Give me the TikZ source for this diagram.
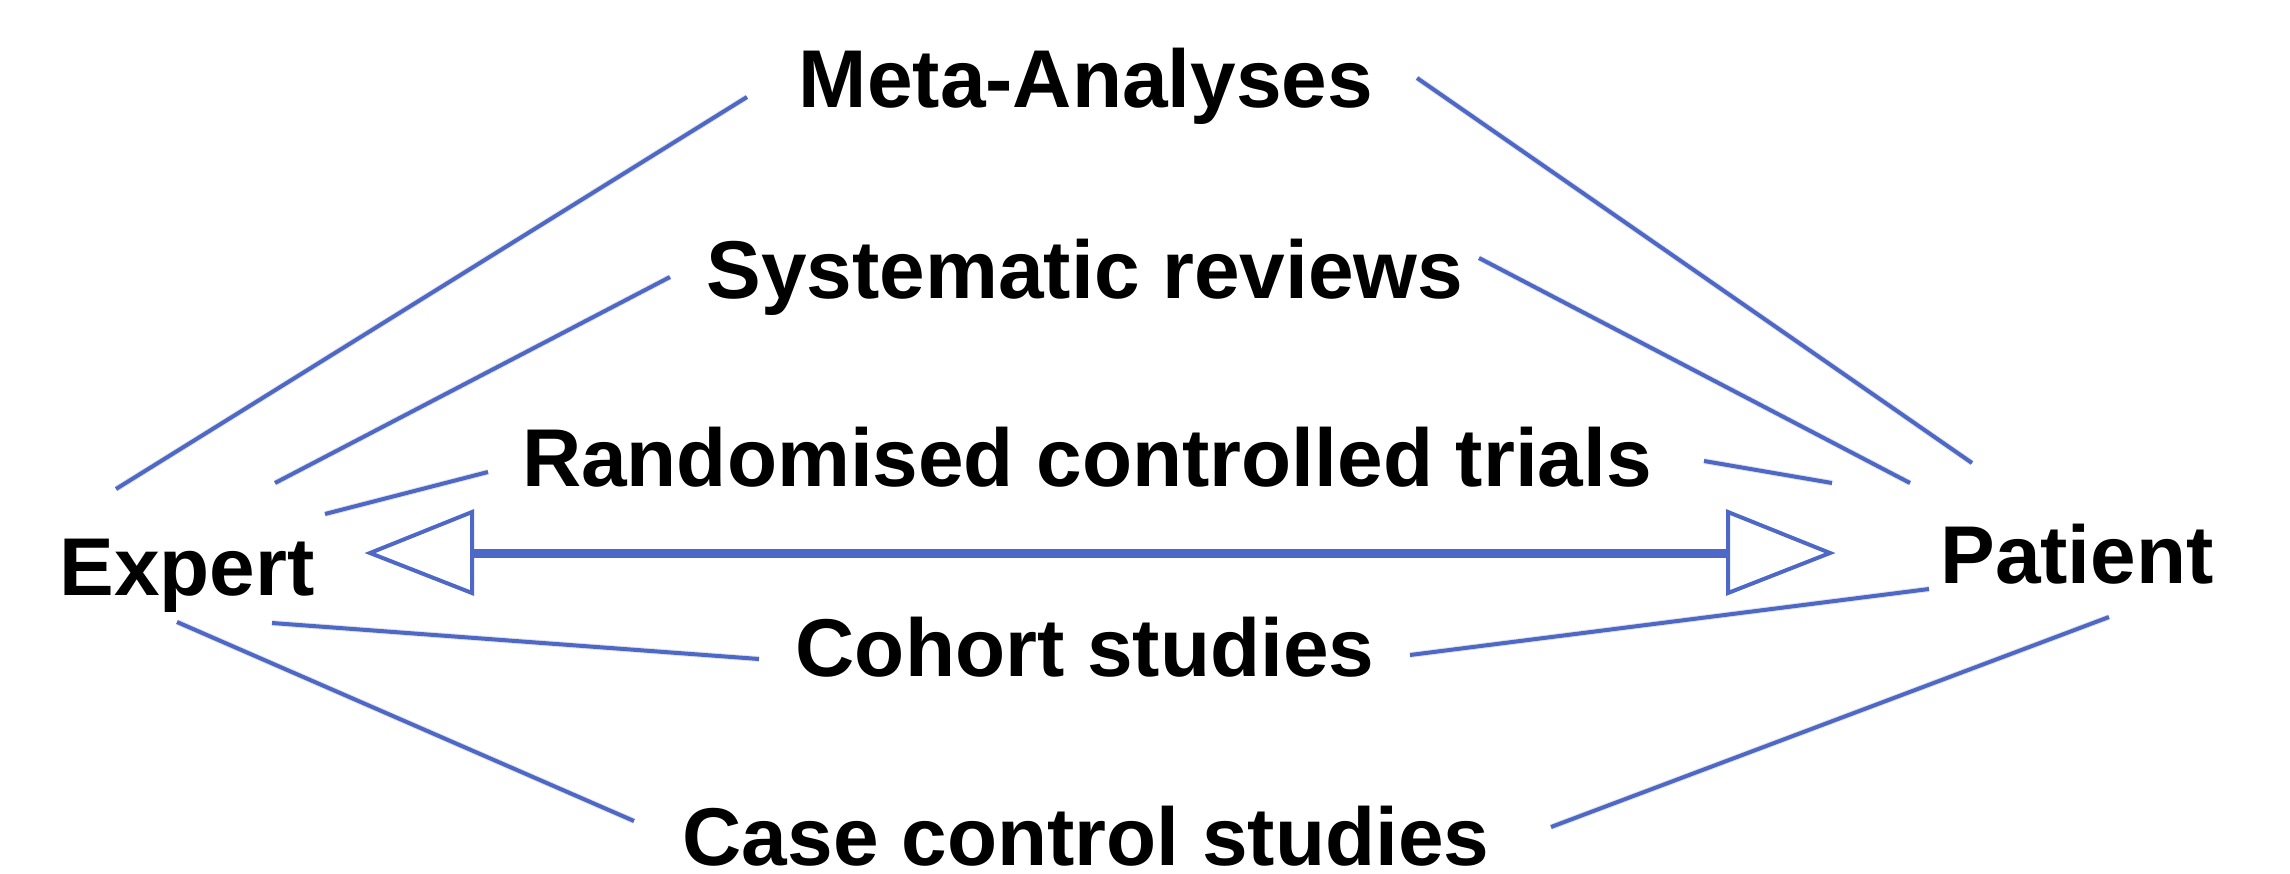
\documentclass[tikz,border=0pt]{standalone}
\usepackage{fontspec}
\setmainfont{Liberation Sans}
\definecolor{linkblue}{RGB}{78,104,200}
\begin{document}
\begin{tikzpicture}[x=0.5pt,y=-0.5pt,
  lbl/.style={font=\fontsize{41}{48}\selectfont\bfseries, anchor=base, inner sep=0pt},
  link/.style={draw=linkblue, line width=2pt},
  shadowline/.style={draw=black, opacity=0.10, line width=3pt},
  headtri/.style={draw=linkblue, fill=white, line width=2pt, line join=miter}
  ]
\useasboundingbox (0,0) rectangle (2290,873);
% labels
\node[lbl] (meta) at (1086,107) {Meta-Analyses};
\node[lbl] (sys)  at (1085,298) {Systematic reviews};
\node[lbl] (rct)  at (1087,486) {Randomised controlled trials};
\node[lbl] (coh)  at (1085,676) {Cohort studies};
\node[lbl, text depth=0pt] (cas)  at (1086,865) {Case control studies};
\node[lbl] (exp)  at (187,595) {Expert};
\node[lbl] (pat)  at (2077,583) {Patient};
% line end points
\coordinate (m1) at (116,489);  \coordinate (m2) at (747,97);
\coordinate (m3) at (1417,78);  \coordinate (m4) at (1972,463);
\coordinate (s1) at (275,483);  \coordinate (s2) at (670,277);
\coordinate (s3) at (1479,258); \coordinate (s4) at (1910,483);
\coordinate (r1) at (325,514);  \coordinate (r2) at (488,472);
\coordinate (r3) at (1704,461); \coordinate (r4) at (1832,483);
\coordinate (c1) at (272,623);  \coordinate (c2) at (759,659);
\coordinate (c3) at (1410,655); \coordinate (c4) at (1929,589);
\coordinate (k1) at (177,622);  \coordinate (k2) at (634,821);
\coordinate (k3) at (1551,827); \coordinate (k4) at (2109,617);
% faint shadows
\begin{scope}[shift={(2,4)}]
\foreach \a/\b in {m1/m2,m3/m4,s1/s2,s3/s4,r1/r2,r3/r4,c1/c2,c3/c4,k1/k2,k3/k4}
  \draw[shadowline] (\a) -- (\b);
\end{scope}
% lines
\foreach \a/\b in {m1/m2,m3/m4,s1/s2,s3/s4,r1/r2,r3/r4,c1/c2,c3/c4,k1/k2,k3/k4}
  \draw[link] (\a) -- (\b);
% double arrow
\coordinate (la) at (370,553); \coordinate (lt) at (472,512);
\coordinate (lb) at (472,593); \coordinate (lbase) at (472,553);
\coordinate (ra) at (1830,553); \coordinate (rt) at (1728,512);
\coordinate (rb) at (1728,593); \coordinate (rbase) at (1728,553);
\draw[draw=linkblue, line width=4.5pt] (lbase) -- (rbase);
\draw[headtri] (la) -- (lt) -- (lb) -- cycle;
\draw[headtri] (ra) -- (rt) -- (rb) -- cycle;
\end{tikzpicture}
\end{document}
